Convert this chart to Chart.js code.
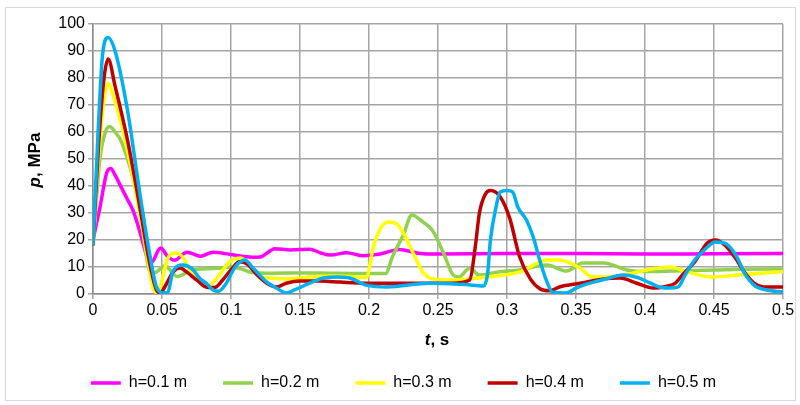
<!DOCTYPE html>
<html><head><meta charset="utf-8">
<script src="https://cdn.jsdelivr.net/npm/chart.js@4.4.1/dist/chart.umd.min.js"></script>
<style>html,body{margin:0;padding:0;background:#fff}#wrap{width:800px;height:405px;position:relative}</style>
</head><body><div id="wrap"><canvas id="c" width="800" height="405"></canvas></div>
<script>
// ---- data ----
const seriesLabels = ["h=0.1 m", "h=0.2 m", "h=0.3 m", "h=0.4 m", "h=0.5 m"];
const seriesColors = ["#ff00ff", "#92d050", "#ffff00", "#c00000", "#00b0f0"];
const xTickValues = [0, 0.05, 0.1, 0.15, 0.2, 0.25, 0.3, 0.35, 0.4, 0.45, 0.5];
const yTickValues = [0, 10, 20, 30, 40, 50, 60, 70, 80, 90, 100];

const t01 = [0, 0.005, 0.01, 0.013, 0.016, 0.021, 0.025, 0.029, 0.034, 0.039, 0.042, 0.049, 0.054, 0.059, 0.068, 0.078, 0.087, 0.1, 0.108, 0.116, 0.121, 0.132, 0.143, 0.157, 0.165, 0.172, 0.184, 0.195, 0.208, 0.222, 0.237, 0.25, 0.3, 0.35, 0.4, 0.45, 0.5];
const p01 = [20, 32, 45, 46.5, 44, 39, 35, 31, 23, 14, 11.5, 17, 14, 12.5, 15.5, 14, 15.5, 14.6, 14, 13.6, 13.7, 16.8, 16.3, 16.6, 15.2, 14.4, 15.3, 14.2, 14.8, 16.5, 15, 14.8, 15, 15, 14.8, 14.9, 15];

const t02 = [0, 0.005, 0.009, 0.012, 0.016, 0.02, 0.025, 0.029, 0.034, 0.037, 0.041, 0.045, 0.052, 0.061, 0.072, 0.08, 0.09, 0.1, 0.107, 0.115, 0.13, 0.15, 0.17, 0.19, 0.212, 0.217, 0.225, 0.231, 0.239, 0.246, 0.254, 0.261, 0.265, 0.273, 0.28, 0.293, 0.309, 0.329, 0.343, 0.355, 0.37, 0.387, 0.4, 0.42, 0.45, 0.47, 0.5];
const p02 = [18, 50, 60, 62, 60, 57, 50, 43, 32, 20, 8.5, 8, 10.5, 6.5, 9, 9.3, 9.5, 10, 9.3, 8, 7.7, 7.8, 7.7, 7.6, 7.6, 13.8, 22, 29.3, 26.7, 23.5, 15.2, 7, 6.3, 9.5, 7, 8.1, 8.9, 10.7, 8.5, 11.5, 11.5, 8.9, 8.3, 8.5, 8.9, 9.2, 9.3];

const t03 = [0, 0.004, 0.008, 0.011, 0.015, 0.02, 0.025, 0.032, 0.039, 0.044, 0.047, 0.05, 0.054, 0.06, 0.065, 0.07, 0.076, 0.083, 0.09, 0.099, 0.107, 0.114, 0.121, 0.128, 0.14, 0.159, 0.172, 0.191, 0.198, 0.203, 0.208, 0.214, 0.22, 0.225, 0.232, 0.239, 0.246, 0.261, 0.273, 0.285, 0.309, 0.329, 0.338, 0.353, 0.362, 0.382, 0.401, 0.418, 0.431, 0.449, 0.467, 0.5];
const p03 = [18, 50, 72, 78, 73, 64, 53, 35, 15, 1.5, 0.5, 5, 13, 15.2, 13.7, 9, 5, 3, 6, 11.9, 13.3, 10.7, 6.3, 5.9, 5.6, 6.3, 6.7, 6.3, 6, 17, 24, 26.7, 26, 22.5, 15.2, 8.1, 5.6, 5.2, 5.6, 6.3, 8.1, 12.6, 12.6, 9.6, 6.3, 6.7, 8.9, 10, 8.1, 6.3, 7, 8.3];

const t04 = [0, 0.004, 0.008, 0.011, 0.016, 0.025, 0.034, 0.041, 0.046, 0.049, 0.052, 0.055, 0.058, 0.063, 0.068, 0.075, 0.083, 0.088, 0.094, 0.101, 0.106, 0.112, 0.119, 0.126, 0.133, 0.14, 0.15, 0.165, 0.179, 0.198, 0.22, 0.244, 0.26, 0.273, 0.277, 0.28, 0.284, 0.288, 0.295, 0.302, 0.309, 0.317, 0.324, 0.331, 0.338, 0.353, 0.37, 0.382, 0.394, 0.406, 0.415, 0.422, 0.427, 0.436, 0.445, 0.451, 0.458, 0.465, 0.472, 0.479, 0.486, 0.5];
const p04 = [18, 55, 80, 87, 77, 57, 32, 11.5, 1.5, 0.4, 2.6, 5.5, 8.1, 9.6, 8.1, 5.2, 2.4, 2.4, 5.2, 9.6, 11.9, 11, 7, 4, 2.6, 4, 4.8, 4.8, 4.4, 4, 4, 4, 4, 5.2, 17.4, 30, 36.7, 38.3, 36, 28, 14, 5.5, 1.9, 1.2, 2.6, 4, 5.6, 5.9, 4, 2.2, 2.8, 4, 7, 11.9, 18.8, 20, 18.1, 13.7, 8.1, 4, 2.6, 2.6];

const t05 = [0, 0.0036, 0.007, 0.011, 0.016, 0.025, 0.034, 0.041, 0.046, 0.051, 0.054, 0.058, 0.065, 0.072, 0.077, 0.083, 0.087, 0.091, 0.096, 0.103, 0.11, 0.116, 0.126, 0.133, 0.14, 0.146, 0.157, 0.167, 0.177, 0.186, 0.198, 0.213, 0.244, 0.27, 0.283, 0.286, 0.288, 0.292, 0.295, 0.3, 0.304, 0.308, 0.314, 0.319, 0.324, 0.329, 0.333, 0.343, 0.35, 0.36, 0.371, 0.384, 0.394, 0.404, 0.411, 0.418, 0.424, 0.429, 0.436, 0.443, 0.451, 0.459, 0.467, 0.472, 0.479, 0.488, 0.5];
const p05 = [18, 59, 89, 95, 90, 68, 37, 15, 2.6, 0.5, 0.5, 8.5, 10.7, 9.2, 6, 3.5, 1.5, 1, 3.5, 10, 12.6, 9.6, 4.4, 2.2, 0.4, 1.5, 4, 5.9, 6.3, 5.9, 3.3, 2.6, 4, 3.5, 3, 7.8, 20, 32, 37.8, 38.3, 37.8, 32, 27.5, 21.1, 12, 4.4, 0.7, 0.4, 2.2, 4, 5.5, 7, 6.2, 4, 2.5, 2.2, 2.6, 7, 12.6, 16.3, 19.3, 18.5, 13.3, 7.8, 3.3, 1.5, 0.8];

const seriesT = [t01, t02, t03, t04, t05];
const seriesP = [p01, p02, p03, p04, p05];
const drawOrder = [5, 4, 3, 2, 1]; // blue drawn on top

const FONT = "'Liberation Sans', Arial, sans-serif";

const datasets = seriesLabels.map((lab, k) => ({
  label: lab,
  data: seriesT[k].map((t, i) => ({x: t, y: seriesP[k][i]})),
  borderColor: seriesColors[k],
  backgroundColor: seriesColors[k],
  borderWidth: 3.5,
  pointRadius: 0,
  cubicInterpolationMode: 'monotone',
  order: drawOrder[k],
  fill: false
}));

const framePlugin = {
  id: 'frame',
  beforeDraw(chart) {
    const ctx = chart.ctx;
    ctx.save();
    ctx.fillStyle = '#ffffff';
    ctx.fillRect(0, 0, chart.width, chart.height);
    ctx.strokeStyle = '#d9d9d9';
    ctx.lineWidth = 1;
    ctx.strokeRect(5.5, 7.5, 790, 393);
    ctx.restore();
  }
};

function drawMixed(ctx, parts, cx, cy) {
  let total = 0;
  parts.forEach(p => { ctx.font = p.font; total += ctx.measureText(p.text).width; });
  let x = cx - total / 2;
  parts.forEach(p => { ctx.font = p.font; ctx.fillText(p.text, x, cy); x += ctx.measureText(p.text).width; });
}

const titlePlugin = {
  id: 'axisTitles',
  afterDraw(chart) {
    const ctx = chart.ctx;
    ctx.save();
    ctx.fillStyle = '#000';
    ctx.textBaseline = 'middle';
    ctx.textAlign = 'left';
    drawMixed(ctx, [
      {text: 't', font: 'italic bold 17px ' + FONT},
      {text: ', s', font: 'bold 17px ' + FONT}
    ], 437, 340);
    ctx.translate(35, 160);
    ctx.rotate(-Math.PI / 2);
    drawMixed(ctx, [
      {text: 'p', font: 'italic bold 17px ' + FONT},
      {text: ', MPa', font: 'bold 17px ' + FONT}
    ], 0, 0);
    ctx.restore();
  }
};

const fmt = v => String(Number(v.toFixed(2)));

new Chart(document.getElementById('c'), {
  type: 'line',
  data: {datasets},
  options: {
    responsive: false,
    animation: false,
    events: [],
    layout: {padding: {left: 24, right: 17, top: 24, bottom: 4}},
    plugins: {
      tooltip: {enabled: false},
      legend: {
        position: 'bottom',
        labels: {
          sort: (a, b) => a.datasetIndex - b.datasetIndex,
          usePointStyle: true,
          pointStyle: 'line',
          pointStyleWidth: 30,
          color: '#000',
          font: {family: FONT, size: 16},
          padding: 36
        }
      }
    },
    scales: {
      x: {
        type: 'linear', min: 0, max: 0.5,
        afterBuildTicks: s => { s.ticks = xTickValues.map(v => ({value: v})); },
        afterFit: s => { s.height = 45; },
        ticks: {callback: v => fmt(v), color: '#000', font: {family: FONT, size: 16}, padding: 2, maxRotation: 0, autoSkip: false},
        grid: {color: '#a6a6a6', lineWidth: 1.5, tickLength: 5, drawTicks: true},
        border: {color: '#8c8c8c', width: 1.5}
      },
      y: {
        type: 'linear', min: 0, max: 100,
        afterBuildTicks: s => { s.ticks = yTickValues.map(v => ({value: v})); },
        afterFit: s => { s.width = 69; },
        ticks: {callback: v => fmt(v), color: '#000', font: {family: FONT, size: 16}, padding: 3, autoSkip: false},
        grid: {color: '#a6a6a6', lineWidth: 1.5, tickLength: 5},
        border: {color: '#8c8c8c', width: 1.5}
      }
    }
  },
  plugins: [framePlugin, titlePlugin]
});
</script>
</body></html>
